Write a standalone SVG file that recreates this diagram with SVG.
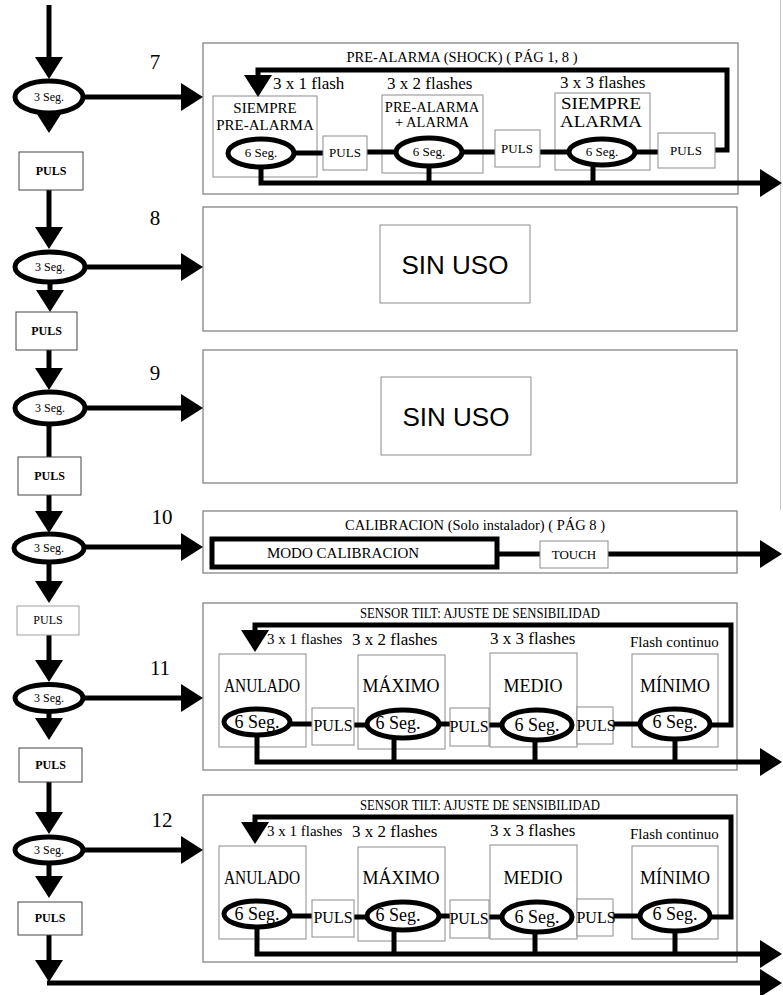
<svg xmlns="http://www.w3.org/2000/svg" width="783" height="995" viewBox="0 0 783 995">
<defs>
<marker id="ah" markerUnits="userSpaceOnUse" markerWidth="22" markerHeight="28" refX="17" refY="14" orient="auto"><path d="M0,0 L22,14 L0,28 z" fill="#000"/></marker>
</defs>
<style>
.t{font-family:"Liberation Serif","Times New Roman",serif;fill:#000}
.c{text-anchor:middle}
.b{font-weight:bold}
.frame{fill:#fff;stroke:#7a7a7a;stroke-width:1.2}
.sub{fill:#fff;stroke:#8c8c8c;stroke-width:1}
.pb{fill:#fff;stroke:#444;stroke-width:1}
.pg{fill:#fff;stroke:#a0a0a0;stroke-width:1}
.el{fill:#fff;stroke:#000;stroke-width:5}
.ln{fill:none;stroke:#000;stroke-width:5;stroke-linejoin:miter}
.ar{marker-end:url(#ah)}
.sans{font-family:"Liberation Sans",Arial,sans-serif;fill:#000}
</style>
<rect x="0" y="0" width="783" height="995" fill="#fff"/>
<line x1="780.5" y1="0" x2="780.5" y2="510" stroke="#c8c8c8" stroke-width="1"/>

<!-- section frames -->
<g id="frames">
  <g id="sec7">
    <rect class="frame" x="203" y="43" width="535" height="151"/>
    <text class="t c" x="462" y="62" font-size="15" textLength="231" lengthAdjust="spacingAndGlyphs">PRE-ALARMA (SHOCK) ( PÁG 1, 8 )</text>
    <text class="t" x="273" y="89" font-size="17">3 x 1 flash</text>
    <text class="t" x="387" y="89" font-size="17">3 x 2 flashes</text>
    <text class="t" x="560" y="88" font-size="17">3 x 3 flashes</text>
  </g>
  <g id="sec8">
    <rect class="frame" x="203" y="207" width="534" height="124"/>
  </g>
  <g id="sec9">
    <rect class="frame" x="203" y="350" width="534" height="133"/>
  </g>
  <g id="sec10">
    <rect class="frame" x="203" y="511" width="534" height="62"/>
    <text class="t c" x="475" y="530" font-size="15" textLength="260" lengthAdjust="spacingAndGlyphs">CALIBRACION  (Solo instalador) ( PÁG 8 )</text>
  </g>
  <g id="sec11">
    <rect class="frame" x="203" y="603" width="534" height="167"/>
    <text class="t c" x="480" y="618" font-size="15" textLength="240" lengthAdjust="spacingAndGlyphs">SENSOR TILT: AJUSTE DE SENSIBILIDAD</text>
    <text class="t" x="267" y="644" font-size="15">3 x 1 flashes</text>
    <text class="t" x="352" y="645" font-size="17">3 x 2 flashes</text>
    <text class="t" x="490" y="644" font-size="17">3 x 3 flashes</text>
    <text class="t" x="630" y="647" font-size="15">Flash continuo</text>
  </g>
  <g id="sec12">
    <rect class="frame" x="203" y="795" width="534" height="167"/>
    <text class="t c" x="480" y="810" font-size="15" textLength="240" lengthAdjust="spacingAndGlyphs">SENSOR TILT: AJUSTE DE SENSIBILIDAD</text>
    <text class="t" x="267" y="836" font-size="15">3 x 1 flashes</text>
    <text class="t" x="352" y="837" font-size="17">3 x 2 flashes</text>
    <text class="t" x="490" y="836" font-size="17">3 x 3 flashes</text>
    <text class="t" x="630" y="839" font-size="15">Flash continuo</text>
  </g>
  <g id="numbers">
    <text class="t c" x="155" y="69" font-size="21">7</text>
    <text class="t c" x="155" y="225" font-size="21">8</text>
    <text class="t c" x="155" y="380" font-size="21">9</text>
    <text class="t c" x="162" y="524" font-size="21">10</text>
    <text class="t c" x="160" y="675" font-size="21">11</text>
    <text class="t c" x="162" y="827" font-size="21">12</text>
  </g>
</g>

<!-- state boxes (under connectors) -->
<g id="states">
  <g id="s7-siempre-pre"><rect class="sub" x="213" y="96" width="104" height="81"/>
    <text class="t c" x="265" y="113" font-size="15">SIEMPRE</text>
    <text class="t c" x="265" y="130" font-size="15">PRE-ALARMA</text></g>
  <g id="s7-pre-alarma"><rect class="sub" x="382" y="95" width="101" height="78"/>
    <text class="t c" x="432" y="112" font-size="14.5">PRE-ALARMA</text>
    <text class="t c" x="432" y="127" font-size="14.5">+ ALARMA</text></g>
  <g id="s7-siempre-alarma"><rect class="sub" x="555" y="93" width="95" height="77"/>
    <text class="t c" x="601" y="109" font-size="16" textLength="80" lengthAdjust="spacingAndGlyphs">SIEMPRE</text>
    <text class="t c" x="601" y="127" font-size="16" textLength="82" lengthAdjust="spacingAndGlyphs">ALARMA</text></g>

  <g id="s8-sinuso"><rect class="sub" x="380" y="225" width="150" height="78"/>
    <text class="sans c" x="455" y="274" font-size="26">SIN USO</text></g>
  <g id="s9-sinuso"><rect class="sub" x="381" y="377" width="150" height="78"/>
    <text class="sans c" x="456" y="426" font-size="26">SIN USO</text></g>

  <g id="s11-anulado"><rect class="sub" x="219" y="654" width="87" height="93"/>
    <text class="t c" x="262" y="692" font-size="18" textLength="76" lengthAdjust="spacingAndGlyphs">ANULADO</text></g>
  <g id="s11-maximo"><rect class="sub" x="358" y="655" width="87" height="94"/>
    <text class="t c" x="401" y="692" font-size="18">MÁXIMO</text></g>
  <g id="s11-medio"><rect class="sub" x="490" y="653" width="87" height="94"/>
    <text class="t c" x="533" y="692" font-size="18">MEDIO</text></g>
  <g id="s11-minimo"><rect class="sub" x="632" y="654" width="86" height="93"/>
    <text class="t c" x="675" y="692" font-size="18">MÍNIMO</text></g>

  <g id="s12-anulado"><rect class="sub" x="219" y="846" width="87" height="93"/>
    <text class="t c" x="262" y="884" font-size="18" textLength="76" lengthAdjust="spacingAndGlyphs">ANULADO</text></g>
  <g id="s12-maximo"><rect class="sub" x="358" y="847" width="87" height="94"/>
    <text class="t c" x="401" y="884" font-size="18">MÁXIMO</text></g>
  <g id="s12-medio"><rect class="sub" x="490" y="845" width="87" height="94"/>
    <text class="t c" x="533" y="884" font-size="18">MEDIO</text></g>
  <g id="s12-minimo"><rect class="sub" x="632" y="846" width="86" height="93"/>
    <text class="t c" x="675" y="884" font-size="18">MÍNIMO</text></g>
</g>

<!-- connectors -->
<g id="connectors">
  <!-- left column -->
  <path class="ln ar" d="M49 5 V74"/>
  <path class="ln ar" d="M49 112 V128"/>
  <path class="ln ar" d="M49 190 V244"/>
  <path class="ln ar" d="M50 282 V307"/>
  <path class="ln ar" d="M49 350 V385"/>
  <path class="ln" d="M49 423 V457"/>
  <path class="ln ar" d="M49 495 V528"/>
  <path class="ln ar" d="M49 561 V598"/>
  <path class="ln ar" d="M49 635 V677"/>
  <path class="ln ar" d="M49 711 V735"/>
  <path class="ln ar" d="M49 782 V829"/>
  <path class="ln ar" d="M49 863 V893"/>
  <path class="ln ar" d="M49 935 V977"/>
  <path class="ln ar" d="M47 983 H777"/>
  <!-- to sections -->
  <path class="ln ar" d="M83 97 H198"/>
  <path class="ln ar" d="M84 267 H198"/>
  <path class="ln ar" d="M84 408 H198"/>
  <path class="ln ar" d="M83 547 H198"/>
  <path class="ln ar" d="M83 698 H198"/>
  <path class="ln ar" d="M83 850 H198"/>
  <!-- section 7 -->
  <path class="ln ar" d="M715 150 H727 V70 H258 V92"/>
  <path class="ln" d="M292 153 H323"/>
  <path class="ln" d="M367 152 H398"/>
  <path class="ln" d="M460 152 H495"/>
  <path class="ln" d="M540 152 H571"/>
  <path class="ln" d="M633 152 H658"/>
  <path class="ln ar" d="M261 165 V183 H777"/>
  <path class="ln" d="M429 164 V183"/>
  <path class="ln" d="M593 163 V183"/>
  <!-- section 10 -->
  <path class="ln" d="M497 554 H540"/>
  <path class="ln ar" d="M608 554 H777"/>
  <!-- section 11 -->
  <path class="ln ar" d="M708 725 H731 V625 H255 V647"/>
  <path class="ln" d="M288 724 H312"/>
  <path class="ln" d="M354 725 H369"/>
  <path class="ln" d="M437 724 H450"/>
  <path class="ln" d="M489 725 H504"/>
  <path class="ln" d="M613 724 H642"/>
  <path class="ln ar" d="M257 733 V762 H777"/>
  <path class="ln" d="M394 736 V762"/>
  <path class="ln" d="M535 738 V762"/>
  <path class="ln" d="M675 737 V762"/>
  <!-- section 12 -->
  <path class="ln ar" d="M708 917 H731 V817 H255 V839"/>
  <path class="ln" d="M288 916 H312"/>
  <path class="ln" d="M354 917 H369"/>
  <path class="ln" d="M437 916 H450"/>
  <path class="ln" d="M489 917 H504"/>
  <path class="ln" d="M613 916 H642"/>
  <path class="ln ar" d="M257 925 V954 H777"/>
  <path class="ln" d="M394 928 V954"/>
  <path class="ln" d="M535 930 V954"/>
  <path class="ln" d="M675 929 V954"/>
</g>

<!-- nodes on top -->
<g id="nodes">
  <g id="t7"><ellipse class="el" cx="49" cy="97" rx="34" ry="16"/><text class="t c" x="49" y="101" font-size="12">3 Seg.</text></g>
  <g id="p7"><rect class="pb" x="19" y="152" width="64" height="38"/><text class="t c b" x="51" y="175" font-size="12">PULS</text></g>
  <g id="t8"><ellipse class="el" cx="50" cy="267" rx="35" ry="15"/><text class="t c" x="50" y="271" font-size="12">3 Seg.</text></g>
  <g id="p8"><rect class="pb" x="16" y="312" width="61" height="38"/><text class="t c b" x="46.5" y="335" font-size="12">PULS</text></g>
  <g id="t9"><ellipse class="el" cx="50" cy="408" rx="35" ry="16"/><text class="t c" x="50" y="412" font-size="12">3 Seg.</text></g>
  <g id="p9"><rect class="pb" x="18" y="457" width="63" height="38"/><text class="t c b" x="49.5" y="480" font-size="12">PULS</text></g>
  <g id="t10"><ellipse class="el" cx="49" cy="548" rx="35" ry="14"/><text class="t c" x="49" y="552" font-size="12">3 Seg.</text></g>
  <g id="p10"><rect class="pg" x="17" y="606" width="62" height="29"/><text class="t c" x="48" y="624" font-size="12">PULS</text></g>
  <g id="t11"><ellipse class="el" cx="49" cy="698" rx="34" ry="13.5"/><text class="t c" x="49" y="702" font-size="12">3 Seg.</text></g>
  <g id="p11"><rect class="pb" x="19" y="748" width="63" height="34"/><text class="t c b" x="50.5" y="769" font-size="12">PULS</text></g>
  <g id="t12"><ellipse class="el" cx="49" cy="850" rx="34" ry="13"/><text class="t c" x="49" y="854" font-size="12">3 Seg.</text></g>
  <g id="p12"><rect class="pb" x="18" y="902" width="64" height="33"/><text class="t c b" x="50" y="922" font-size="12">PULS</text></g>

  <!-- section 7 -->
  <g id="s7-e1"><ellipse class="el" cx="261" cy="153" rx="33" ry="14"/><text class="t c" x="261" y="157" font-size="13">6 Seg.</text></g>
  <g id="s7-p1"><rect class="sub" x="323" y="136" width="44" height="34"/><text class="t c" x="345" y="157" font-size="13">PULS</text></g>
  <g id="s7-e2"><ellipse class="el" cx="429" cy="152" rx="33" ry="14"/><text class="t c" x="429" y="156" font-size="13">6 Seg.</text></g>
  <g id="s7-p2"><rect class="sub" x="495" y="130" width="45" height="37"/><text class="t c" x="517" y="153" font-size="13">PULS</text></g>
  <g id="s7-e3"><ellipse class="el" cx="602" cy="152" rx="33" ry="13"/><text class="t c" x="602" y="156" font-size="13">6 Seg.</text></g>
  <g id="s7-p3"><rect class="sub" x="658" y="133" width="57" height="35"/><text class="t c" x="686" y="155" font-size="13">PULS</text></g>

  <!-- section 10 -->
  <g id="s10-modo"><rect x="212" y="539" width="285" height="28" fill="#fff" stroke="#000" stroke-width="5"/><text class="t c" x="343" y="558" font-size="15">MODO CALIBRACION</text></g>
  <g id="s10-touch"><rect class="sub" x="540" y="541" width="68" height="27"/><text class="t c" x="574" y="559" font-size="13">TOUCH</text></g>

  <!-- section 11 -->
  <g id="s11-e1"><ellipse class="el" cx="257" cy="722" rx="33" ry="13"/><text class="t c" x="257" y="728" font-size="18">6 Seg.</text></g>
  <g id="s11-p1"><rect class="sub" x="312" y="708" width="42" height="37"/><text class="t c" x="333" y="731" font-size="16">PULS</text></g>
  <g id="s11-e2"><ellipse class="el" cx="403" cy="724" rx="36" ry="14"/><text class="t c" x="398" y="729" font-size="18">6 Seg.</text></g>
  <g id="s11-p2"><rect class="sub" x="450" y="708" width="39" height="38"/><text class="t c" x="469" y="732" font-size="16">PULS</text></g>
  <g id="s11-e3"><ellipse class="el" cx="537" cy="725" rx="35" ry="15"/><text class="t c" x="537" y="731" font-size="18">6 Seg.</text></g>
  <g id="s11-p3"><rect class="sub" x="577" y="707" width="36" height="37"/><text class="t c" x="596" y="731" font-size="16">PULS</text></g>
  <g id="s11-e4"><ellipse class="el" cx="675" cy="724" rx="35" ry="15"/><text class="t c" x="675" y="728" font-size="18">6 Seg.</text></g>

  <!-- section 12 -->
  <g id="s12-e1"><ellipse class="el" cx="257" cy="914" rx="33" ry="13"/><text class="t c" x="257" y="920" font-size="18">6 Seg.</text></g>
  <g id="s12-p1"><rect class="sub" x="312" y="900" width="42" height="37"/><text class="t c" x="333" y="923" font-size="16">PULS</text></g>
  <g id="s12-e2"><ellipse class="el" cx="403" cy="916" rx="36" ry="14"/><text class="t c" x="398" y="921" font-size="18">6 Seg.</text></g>
  <g id="s12-p2"><rect class="sub" x="450" y="900" width="39" height="38"/><text class="t c" x="469" y="924" font-size="16">PULS</text></g>
  <g id="s12-e3"><ellipse class="el" cx="537" cy="917" rx="35" ry="15"/><text class="t c" x="537" y="923" font-size="18">6 Seg.</text></g>
  <g id="s12-p3"><rect class="sub" x="577" y="899" width="36" height="37"/><text class="t c" x="596" y="923" font-size="16">PULS</text></g>
  <g id="s12-e4"><ellipse class="el" cx="675" cy="916" rx="35" ry="15"/><text class="t c" x="675" y="920" font-size="18">6 Seg.</text></g>
</g>
</svg>
